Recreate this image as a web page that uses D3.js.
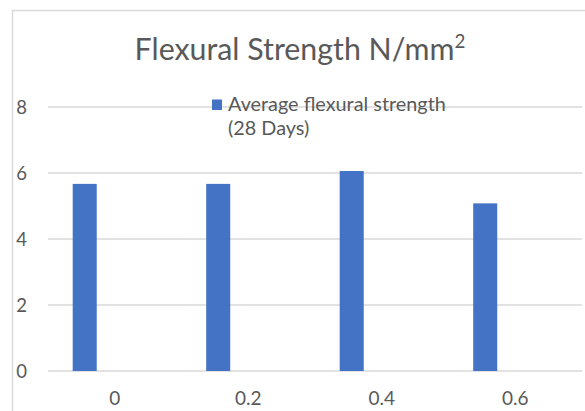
<!DOCTYPE html>
<html>
<head>
<meta charset="utf-8">
<script src="https://cdn.jsdelivr.net/npm/d3@7"></script>
<style>
  html, body { margin: 0; padding: 0; background: #fff; }
  svg { display: block; }
  text { font-family: Lato, "Open Sans", sans-serif; fill: #595959; }
</style>
</head>
<body>
<svg id="chart" width="585" height="411"></svg>
<script>
// ---- data ----
const categories = ["0", "0.2", "0.4", "0.6"];
const values = [5.67, 5.67, 6.06, 5.08];
const yTicks = [0, 2, 4, 6, 8];
const seriesName = ["Average flexural strength", "(28 Days)"];
const titleMain = "Flexural Strength N/mm";
const titleSup = "2";

const svg = d3.select("#chart");

// chart border (extends past right/bottom of the frame)
svg.append("rect")
  .attr("x", 12.5).attr("y", 10.5)
  .attr("width", 640).attr("height", 440)
  .attr("fill", "#fff")
  .attr("stroke", "#d9d9d9").attr("stroke-width", 1.5);

const plot = { left: 48, right: 582, top: 107, bottom: 371 };

const x = d3.scaleBand().domain(categories).range([plot.left, plot.right]).padding(0);
const y = d3.scaleLinear().domain([0, 8]).range([plot.bottom, plot.top]);

function fit(sel, target) {
  const node = sel.node();
  const fs = parseFloat(sel.attr("font-size"));
  const w = node.getComputedTextLength();
  if (w > 0) sel.attr("font-size", (fs * target / w).toFixed(2));
}

// gridlines
svg.append("g").selectAll("line").data(yTicks).join("line")
  .attr("x1", plot.left).attr("x2", plot.right)
  .attr("y1", d => y(d)).attr("y2", d => y(d))
  .attr("stroke", "#d9d9d9").attr("stroke-width", 1.5);

// y axis labels
const yAxis = d3.axisLeft(y).tickValues(yTicks).tickSize(0).tickPadding(0).tickFormat(d3.format("d"));
const yg = svg.append("g").attr("transform", "translate(27,0)").call(yAxis);
yg.select(".domain").remove();
yg.selectAll("text").attr("font-size", 18.5).attr("fill", "#595959")
  .attr("font-family", "Lato, 'Open Sans', sans-serif").attr("dy", "0.36em");

// x axis labels
const xAxis = d3.axisBottom(x).tickSize(0).tickPadding(0);
const xg = svg.append("g").attr("transform", `translate(0,${plot.bottom})`).call(xAxis);
xg.select(".domain").remove();
xg.selectAll("text").attr("font-size", 19).attr("fill", "#595959")
  .attr("font-family", "Lato, 'Open Sans', sans-serif")
  .attr("dy", null).attr("y", 34);

// bars
const bw = x.bandwidth();
svg.append("g").selectAll("rect").data(values).join("rect")
  .attr("x", (d, i) => x(categories[i]) + bw * 0.185)
  .attr("width", bw * 0.18)
  .attr("y", d => y(d))
  .attr("height", d => y(0) - y(d))
  .attr("fill", "#4472c4");

// title
const title = svg.append("text")
  .attr("x", 300).attr("y", 60)
  .attr("text-anchor", "middle")
  .attr("font-size", 28);
title.append("tspan").text(titleMain);
title.append("tspan").attr("font-size", "62%").attr("dy", "-0.62em").text(titleSup);
fit(title, 331);

// legend
svg.append("rect")
  .attr("x", 212).attr("y", 99.5).attr("width", 10).attr("height", 10.5)
  .attr("fill", "#4472c4");
const l1 = svg.append("text").attr("x", 228).attr("y", 110.5)
  .attr("font-size", 18).text(seriesName[0]);
fit(l1, 218);
svg.append("text").attr("x", 228).attr("y", 135)
  .attr("font-size", l1.attr("font-size")).text(seriesName[1]);
</script>
</body>
</html>
